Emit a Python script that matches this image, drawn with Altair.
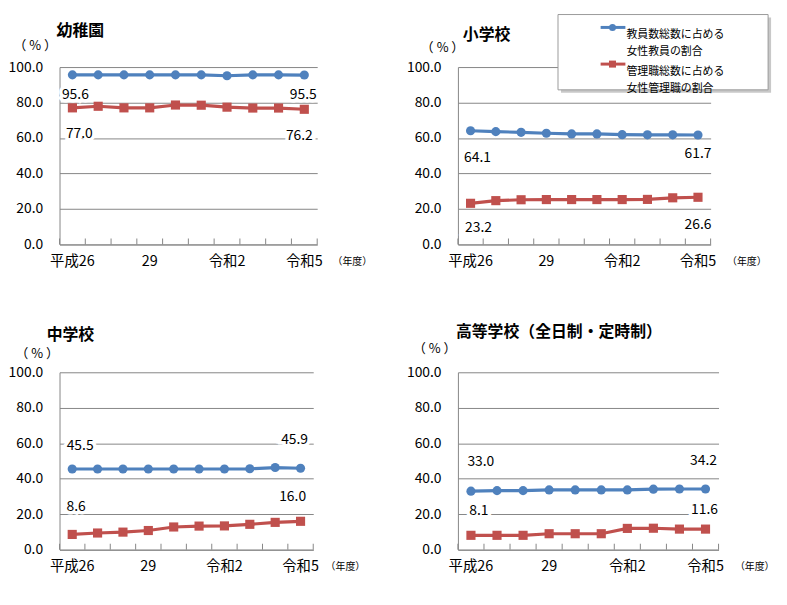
import json
import altair as alt
import pandas as pd

# ---------------- data ----------------
years = ["平成26", "27", "28", "29", "30", "令和元", "令和2", "3", "4", "令和5"]
shown_year_labels = ["平成26", "29", "令和2", "令和5"]
series_names = ["教員数総数に占める\n女性教員の割合", "管理職総数に占める\n女性管理職の割合"]
panel_titles = ["幼稚園", "小学校", "中学校", "高等学校（全日制・定時制）"]

kinder_teachers = [95.6, 95.6, 95.6, 95.6, 95.6, 95.6, 95.1, 95.6, 95.6, 95.5]
kinder_managers = [77.0, 77.9, 77.0, 77.0, 78.6, 78.5, 77.4, 76.9, 76.9, 76.2]
elem_teachers = [64.1, 63.6, 63.2, 62.7, 62.3, 62.3, 61.9, 61.8, 61.8, 61.7]
elem_managers = [23.2, 24.7, 25.2, 25.3, 25.3, 25.3, 25.3, 25.4, 26.3, 26.6]
junior_teachers = [45.5, 45.5, 45.5, 45.5, 45.5, 45.5, 45.5, 45.6, 46.3, 45.9]
junior_managers = [8.6, 9.4, 9.9, 10.8, 12.8, 13.3, 13.4, 14.3, 15.4, 16.0]
high_teachers = [33.0, 33.3, 33.3, 33.7, 33.7, 33.7, 33.7, 34.1, 34.2, 34.2]
high_managers = [8.1, 8.1, 8.1, 9.0, 9.0, 9.0, 12.0, 12.1, 11.6, 11.6]

# ---------------- style ----------------
FONT = "Noto Sans CJK JP"
BLUE = "#4F81BD"
RED = "#C0504D"
GRID = "#868686"


def make_panel(title, teachers, managers, width, height, title_pos, pct_pos,
               year_dx, label_offsets, legend=False):
    n = len(years)
    df = pd.DataFrame({
        "year": years + years,
        "idx": list(range(n)) * 2,
        "sidx": [0] * n + [1] * n,
        "series": [series_names[0]] * n + [series_names[1]] * n,
        "value": teachers + managers,
    })
    x_scale = alt.Scale(type="band", paddingInner=0, paddingOuter=0)
    label_expr = ("indexof(" + json.dumps(shown_year_labels, ensure_ascii=False)
                  + ", datum.value) >= 0 ? datum.value : ''")
    x_axis = alt.Axis(
        title="（年度）", titleX=width + year_dx, titleY=17, titleAlign="left",
        titleBaseline="middle", titleFontSize=10, titleFontWeight="normal",
        titleFont=FONT, titleColor="black",
        labelExpr=label_expr, labelAngle=0, labelFontSize=14.5, labelFont=FONT,
        labelColor="black", labelBaseline="middle", labelPadding=17,
        ticks=False, domainColor=GRID, grid=False,
    )
    y_axis = alt.Axis(
        title="（ % ）", titleAngle=0, titleX=pct_pos[0], titleY=pct_pos[1],
        titleAlign="center", titleBaseline="middle", titleFontSize=13,
        titleFontWeight="normal", titleFont=FONT, titleColor="black",
        values=[0, 20, 40, 60, 80, 100], format=".1f", ticks=False,
        labelPadding=17, labelFontSize=14, labelFont=FONT, labelColor="black",
        gridColor=GRID, domainColor=GRID,
    )
    x_enc = alt.X("year:N", sort=years, scale=x_scale, axis=x_axis)
    y_enc = alt.Y("value:Q", scale=alt.Scale(domain=[0, 100]), axis=y_axis)
    color_enc = alt.Color("series:N", scale=alt.Scale(domain=series_names, range=[BLUE, RED]),
                          legend=None)
    shape_enc = alt.Shape("series:N", scale=alt.Scale(domain=series_names, range=["circle", "square"]),
                          legend=None)

    base = alt.Chart(df).encode(x=x_enc, y=y_enc)
    layers = []
    layers.append(base.mark_line(strokeWidth=3.2).encode(color=color_enc, detail="series:N"))
    layers.append(base.mark_point(filled=True, opacity=1, size=85).encode(color=color_enc, shape=shape_enc))

    # tick marks at band edges (inside)
    tick_src = alt.Chart(df).transform_filter(alt.datum.sidx == 0)
    layers.append(tick_src.mark_rule(color=GRID).encode(
        x=alt.X("year:N", sort=years, scale=x_scale, axis=x_axis, bandPosition=0),
        y=alt.value(height - 6), y2=alt.value(height)))
    layers.append(tick_src.transform_filter(alt.datum.idx == n - 1).mark_rule(color=GRID).encode(
        x=alt.X("year:N", sort=years, scale=x_scale, axis=x_axis, bandPosition=1),
        y=alt.value(height - 6), y2=alt.value(height)))

    # first / last value labels
    for s_i in range(2):
        for p_i, idx in enumerate([0, n - 1]):
            dx, dy = label_offsets[s_i][p_i]
            sel = base.transform_filter((alt.datum.sidx == s_i) & (alt.datum.idx == idx))
            layers.append(sel.mark_text(dx=dx, dy=dy, fontSize=14, font=FONT, color="white",
                                        stroke="white", strokeWidth=7).encode(
                text=alt.Text("value:Q", format=".1f")))
            layers.append(sel.mark_text(dx=dx, dy=dy, fontSize=14, font=FONT, color="black").encode(
                text=alt.Text("value:Q", format=".1f")))

    # panel title
    tdf = pd.DataFrame({"t": [title]})
    layers.append(alt.Chart(tdf).mark_text(align="left", baseline="middle", fontSize=16,
                                           fontWeight="bold", font=FONT, color="black").encode(
        x=alt.value(title_pos[0]), y=alt.value(title_pos[1]), text="t:N"))

    if legend:
        ldf = pd.DataFrame({"sidx": [0, 1], "series": series_names})
        lbase = alt.Chart(ldf)
        bx0, bx1, by0, by1 = 101, 313, -53, 23
        layers.append(lbase.transform_filter(alt.datum.sidx == 0).mark_rect(
            fill="#B0B0B0", opacity=0.7).encode(
            x=alt.value(bx0 + 3), x2=alt.value(bx1 + 3), y=alt.value(by0 + 3), y2=alt.value(by1 + 3)))
        layers.append(lbase.transform_filter(alt.datum.sidx == 0).mark_rect(
            fill="white", stroke="#9A9A9A", strokeWidth=1).encode(
            x=alt.value(bx0), x2=alt.value(bx1), y=alt.value(by0), y2=alt.value(by1)))
        entry_y = [-40, -3]
        colors = [BLUE, RED]
        shapes = ["circle", "square"]
        for i in range(2):
            sub = lbase.transform_filter(alt.datum.sidx == i)
            layers.append(sub.mark_rule(color=colors[i], strokeWidth=3).encode(
                x=alt.value(144), x2=alt.value(169), y=alt.value(entry_y[i])))
            layers.append(sub.mark_point(filled=True, opacity=1, size=50, shape=shapes[i],
                                         color=colors[i]).encode(
                x=alt.value(156), y=alt.value(entry_y[i])))
            layers.append(sub.mark_text(align="left", baseline="middle", fontSize=11, font=FONT,
                                        color="black", lineBreak="\n", lineHeight=17).encode(
                x=alt.value(170), y=alt.value(entry_y[i] + 8), text="series:N"))

    return alt.layer(*layers).properties(width=width, height=height)


p1 = make_panel(panel_titles[0], kinder_teachers, kinder_managers, 260, 179,
                (-3, -36), (-25, -22), 15,
                [[(3, 20), (-1, 20)], [(7, 26), (-5, 27)]])
p2 = make_panel(panel_titles[1], elem_teachers, elem_managers, 255, 179,
                (5, -32), (-16, -20), 16,
                [[(7, 28), (0, 19)], [(8, 25), (0, 28)]], legend=True)
p3 = make_panel(panel_titles[2], junior_teachers, junior_managers, 256, 179,
                (-13, -38), (-23, -19), 12,
                [[(8, -23), (-6, -28)], [(4, -28), (-8, -24)]])
p4 = make_panel(panel_titles[3], high_teachers, high_managers, 263, 179,
                (-2, -41), (-24, -24), 16,
                [[(10, -29), (-2, -28)], [(8, -24), (-1, -19)]])

chart = alt.concat(
    p1, p2, p3, p4, columns=2,
    spacing=alt.RowColnumber(row=129, column=142), bounds="flush",
).properties(
    padding={"left": 0, "top": 3, "right": 5, "bottom": 5},
).configure_view(stroke=None)

chart.save("out.html", embed_options={"renderer": "svg", "actions": False})
